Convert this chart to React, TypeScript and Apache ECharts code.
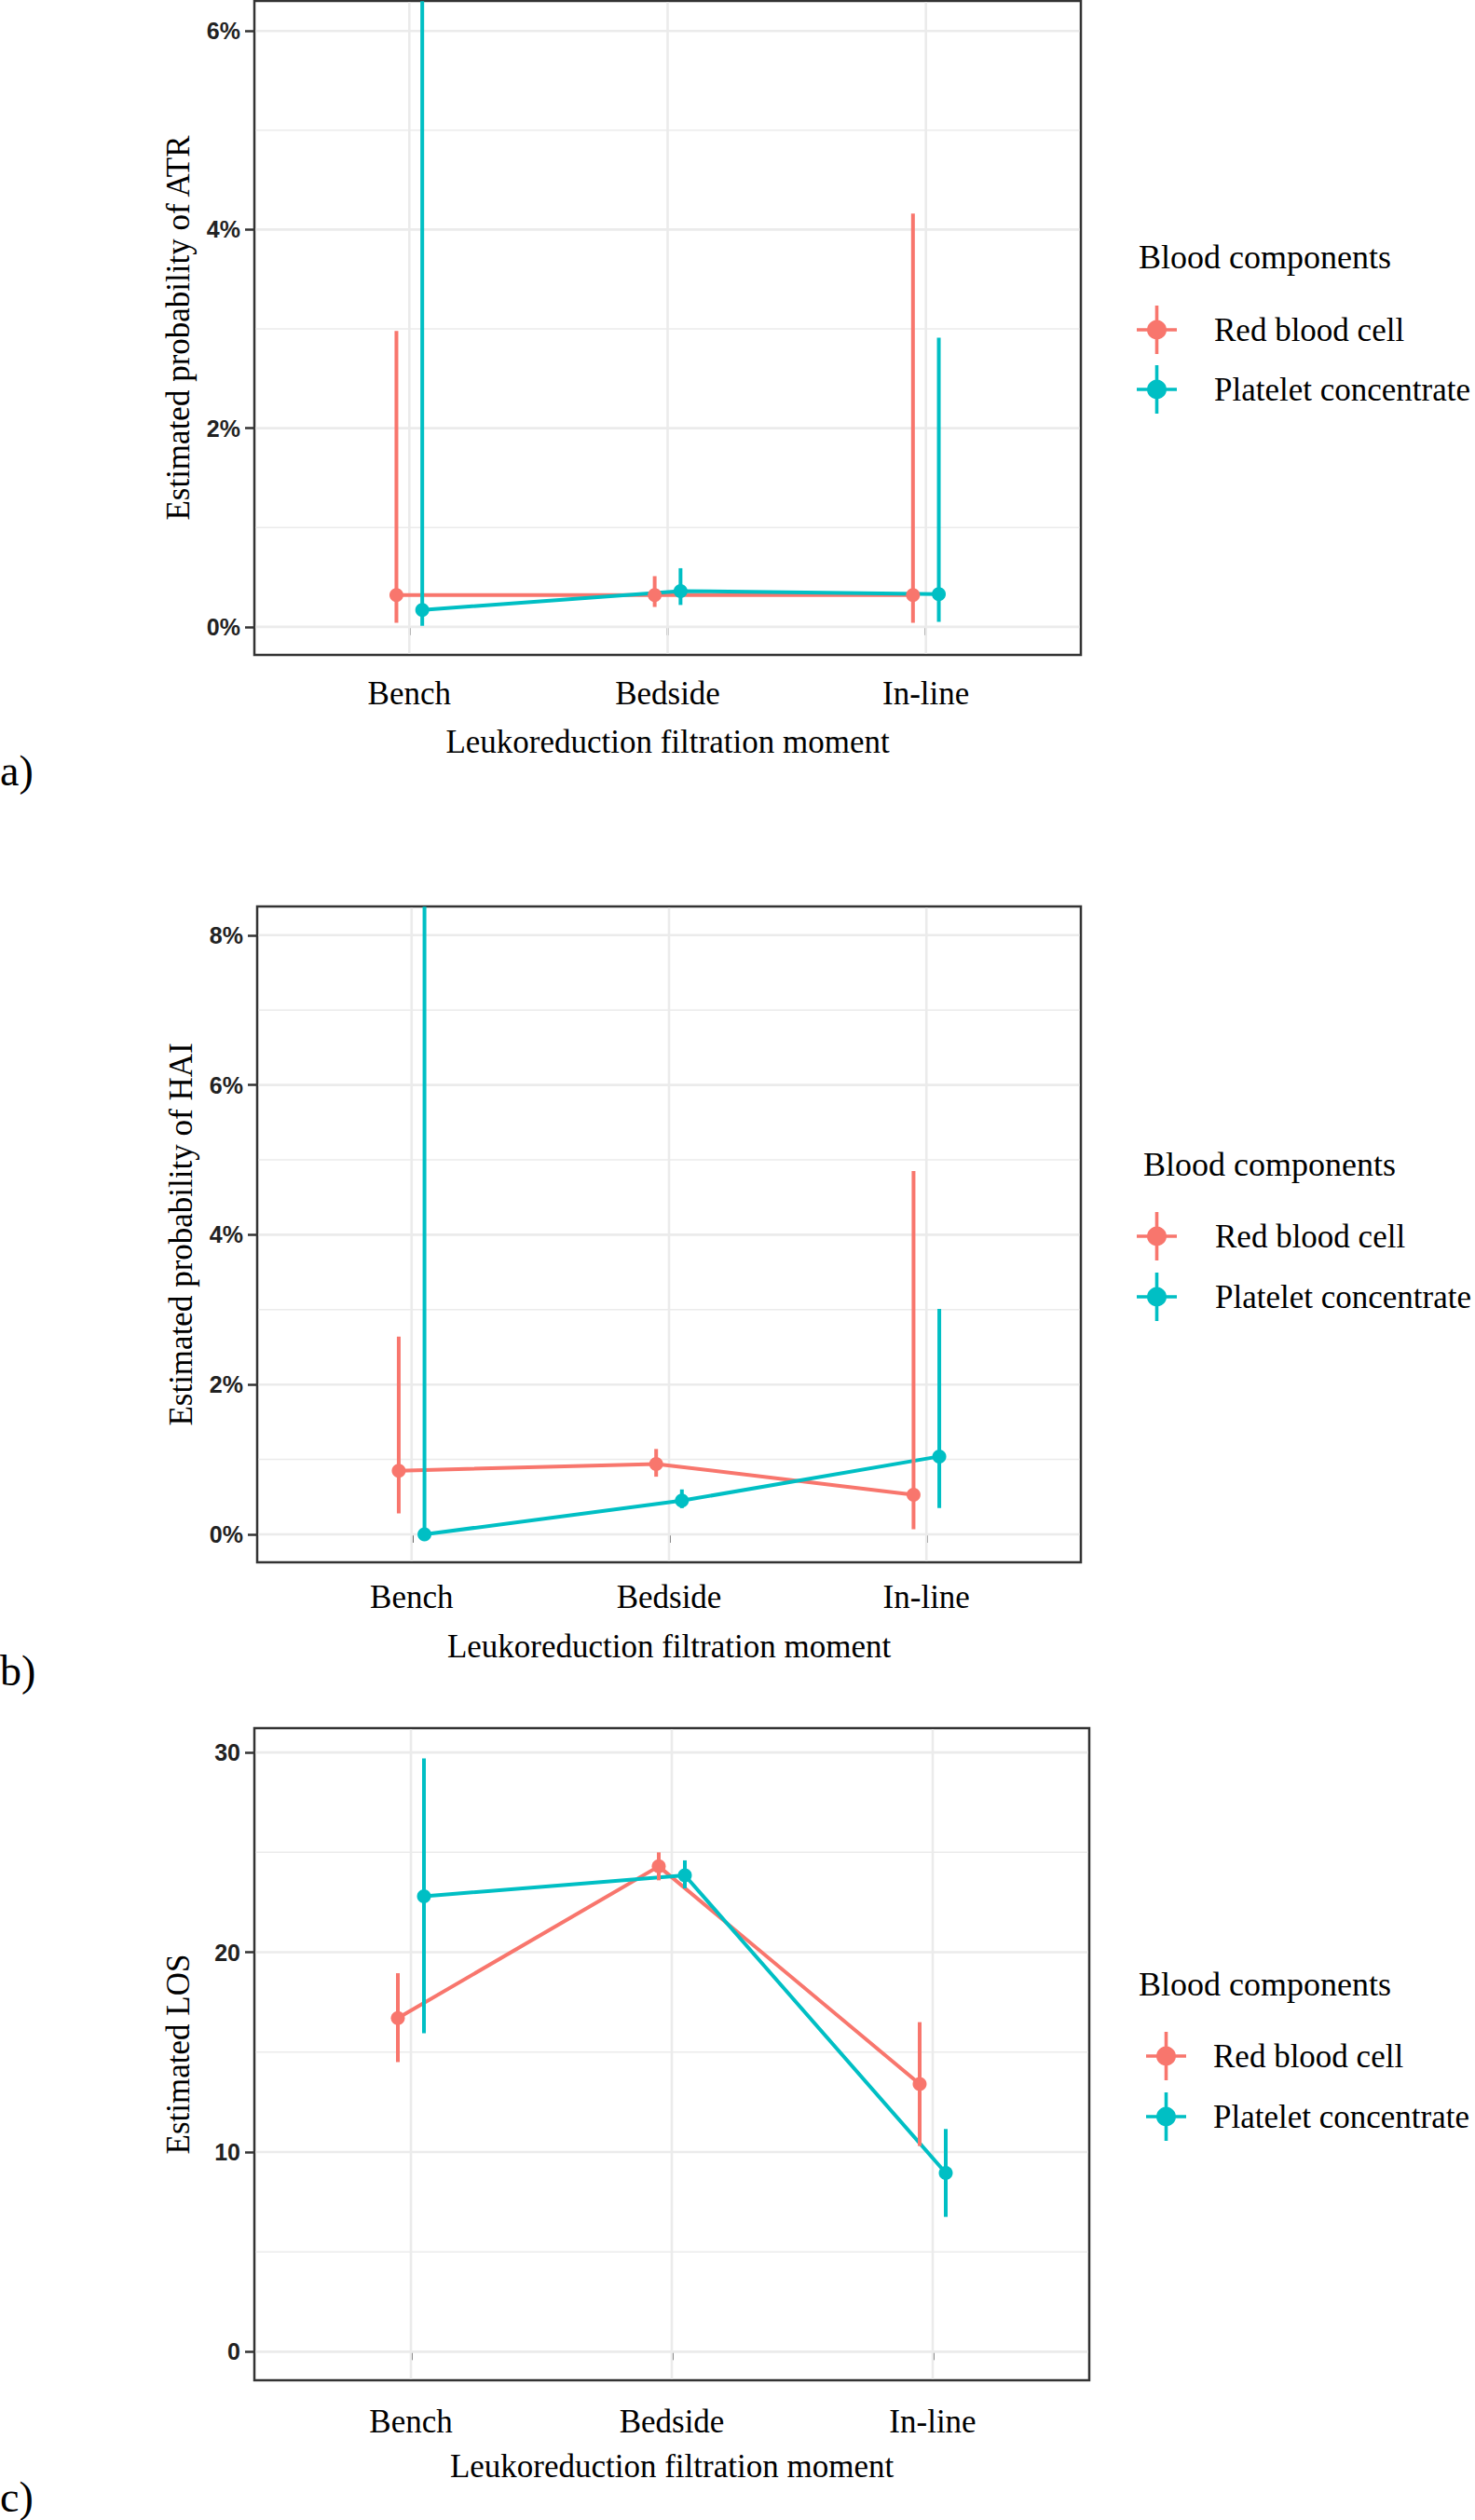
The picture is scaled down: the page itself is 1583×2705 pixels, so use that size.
import { useEffect, useRef } from "react";
import * as echarts from "echarts";

const categories = ["Bench", "Bedside", "In-line"];
const groups = ["Red blood cell", "Platelet concentrate"];
const groupColors = ["#F8766D", "#00BFC4"];
const dodge = [-0.05, 0.05];

// a) ATR, in %
const atrRedEst = [0.32, 0.32, 0.32];
const atrRedLo = [0.04, 0.2, 0.04];
const atrRedHi = [2.98, 0.51, 4.16];
const atrPltEst = [0.17, 0.36, 0.33];
const atrPltLo = [0.01, 0.22, 0.05];
const atrPltHi = [6.3, 0.59, 2.91];

// b) HAI, in %
const haiRedEst = [0.85, 0.94, 0.53];
const haiRedLo = [0.28, 0.77, 0.07];
const haiRedHi = [2.64, 1.14, 4.85];
const haiPltEst = [0.0, 0.45, 1.04];
const haiPltLo = [0.0, 0.35, 0.35];
const haiPltHi = [8.38, 0.6, 3.01];

// c) LOS
const losRedEst = [16.7, 24.3, 13.4];
const losRedLo = [14.5, 23.6, 10.3];
const losRedHi = [18.95, 25.0, 16.5];
const losPltEst = [22.8, 23.85, 8.95];
const losPltLo = [15.95, 23.2, 6.75];
const losPltHi = [29.7, 24.6, 11.15];

const atrTicks = [0, 2, 4, 6];
const atrMinor = [1, 3, 5];
const haiTicks = [0, 2, 4, 6, 8];
const haiMinor = [1, 3, 5, 7];
const losTicks = [0, 10, 20, 30];
const losMinor = [5, 15, 25];

const SERIF = "'Liberation Serif', 'Times New Roman', serif";
const SANS = "'Liberation Sans', Arial, sans-serif";

const panels = [
  {
    tag: "a)",
    yName: "Estimated probability of ATR",
    pct: true,
    ticks: atrTicks,
    minor: atrMinor,
    yMin: -0.283,
    yMax: 6.302,
    red: [atrRedEst, atrRedLo, atrRedHi],
    plt: [atrPltEst, atrPltLo, atrPltHi],
    grid: { left: 273, top: 1, width: 887, height: 702 },
    labelMargin: 24,
    nameGap: 76,
    tagY: 827,
    legendTitle: { x: 1222, y: 276 },
    legend: { left: 1215, top: 323, gap: 12, pad: 35 },
  },
  {
    tag: "b)",
    yName: "Estimated probability of HAI",
    pct: true,
    ticks: haiTicks,
    minor: haiMinor,
    yMin: -0.373,
    yMax: 8.383,
    red: [haiRedEst, haiRedLo, haiRedHi],
    plt: [haiPltEst, haiPltLo, haiPltHi],
    grid: { left: 276, top: 973, width: 884, height: 704 },
    labelMargin: 20,
    nameGap: 73,
    tagY: 1793,
    legendTitle: { x: 1227, y: 1250 },
    legend: { left: 1215, top: 1296, gap: 13, pad: 36 },
  },
  {
    tag: "c)",
    yName: "Estimated LOS",
    pct: false,
    ticks: losTicks,
    minor: losMinor,
    yMin: -1.43,
    yMax: 31.22,
    red: [losRedEst, losRedLo, losRedHi],
    plt: [losPltEst, losPltLo, losPltHi],
    grid: { left: 273, top: 1855, width: 896, height: 700 },
    labelMargin: 27,
    nameGap: 75,
    tagY: 2680,
    legendTitle: { x: 1222, y: 2130 },
    legend: { left: 1225, top: 2176, gap: 13, pad: 24 },
  },
];

// point-range key: horizontal bar, vertical bar, dot
const KEY_ICON =
  "path://M0,24.2L43,24.2L43,27.8L0,27.8Z M19.7,0L23.3,0L23.3,52L19.7,52Z M21.5,15.5A10.5,10.5,0,1,1,21.49,15.5Z";

export default function App() {
  const chartRef = useRef<HTMLDivElement>(null);

  useEffect(() => {
    if (!chartRef.current) return;
    document.body.style.margin = "0";
    const chart = echarts.init(chartRef.current, null, { renderer: "svg" });

    const grids: any[] = [];
    const xAxes: any[] = [];
    const yAxes: any[] = [];
    const series: any[] = [];
    const legends: any[] = [];
    const graphics: any[] = [];

    panels.forEach((p, pi) => {
      grids.push({
        ...p.grid,
        show: true,
        backgroundColor: "#fff",
        borderColor: "#333",
        borderWidth: 2.5,
        containLabel: false,
      });
      xAxes.push({
        gridIndex: pi,
        type: "value",
        min: 0.4,
        max: 3.6,
        name: "Leukoreduction filtration moment",
        nameLocation: "middle",
        nameGap: p.nameGap,
        nameTextStyle: { fontFamily: SERIF, fontSize: 35, color: "#000" },
        axisLine: { show: false },
        splitLine: { show: false },
        axisTick: {
          show: true,
          length: 9,
          customValues: [1, 2, 3],
          lineStyle: { color: "#333", width: 2.5 },
        },
        axisLabel: {
          customValues: [1, 2, 3],
          margin: p.labelMargin,
          fontFamily: SERIF,
          fontSize: 35,
          color: "#000",
          formatter: (v: number) => categories[Math.round(v) - 1] ?? "",
        },
      });
      yAxes.push({
        gridIndex: pi,
        type: "value",
        min: p.yMin,
        max: p.yMax,
        name: p.yName,
        nameLocation: "middle",
        nameGap: 64,
        nameTextStyle: { fontFamily: SERIF, fontSize: 35, color: "#000" },
        axisLine: { show: false },
        splitLine: { show: false },
        axisTick: {
          show: true,
          length: 10,
          customValues: p.ticks,
          lineStyle: { color: "#333", width: 2.5 },
        },
        axisLabel: {
          customValues: p.ticks,
          margin: 15,
          fontFamily: SANS,
          fontWeight: "bold",
          fontSize: 25,
          color: "#222",
          formatter: (v: number) => (p.pct ? `${v}%` : `${v}`),
        },
      });

      // grid lines
      const gridData: number[][] = [];
      p.minor.forEach((v) => gridData.push([2, v, 0, 0]));
      p.ticks.forEach((v) => gridData.push([2, v, 0, 1]));
      categories.forEach((_, i) => gridData.push([i + 1, 0, 1, 1]));
      series.push({
        type: "custom",
        xAxisIndex: pi,
        yAxisIndex: pi,
        silent: true,
        z: 1,
        data: gridData,
        renderItem: (params: any, api: any) => {
          const cs = params.coordSys;
          const kind = api.value(2);
          const major = api.value(3);
          const w = major ? 2.6 : 1.5;
          if (kind === 0) {
            const y = api.coord([2, api.value(1)])[1];
            return {
              type: "line",
              shape: { x1: cs.x + 1.5, y1: y, x2: cs.x + cs.width - 1.5, y2: y },
              style: { stroke: "#EBEBEB", lineWidth: w },
            };
          }
          const x = api.coord([api.value(0), 0])[0];
          return {
            type: "line",
            shape: { x1: x, y1: cs.y + 1.5, x2: x, y2: cs.y + cs.height - 1.5 },
            style: { stroke: "#EBEBEB", lineWidth: w },
          };
        },
      });

      [p.red, p.plt].forEach((vals, gi) => {
        const [est, lo, hi] = vals;
        const pts = categories.map((_, i) => [i + 1 + dodge[gi], est[i], lo[i], hi[i]]);
        series.push({
          name: groups[gi],
          type: "line",
          xAxisIndex: pi,
          yAxisIndex: pi,
          data: pts.map((d) => [d[0], d[1]]),
          symbol: "none",
          color: groupColors[gi],
          lineStyle: { color: groupColors[gi], width: 4 },
          z: 2,
        });
        series.push({
          name: groups[gi],
          type: "custom",
          xAxisIndex: pi,
          yAxisIndex: pi,
          data: pts,
          encode: { x: 0, y: [1, 2, 3] },
          itemStyle: { color: groupColors[gi] },
          z: 3,
          renderItem: (_params: any, api: any) => {
            const x = api.value(0);
            const pE = api.coord([x, api.value(1)]);
            const pL = api.coord([x, api.value(2)]);
            const pH = api.coord([x, api.value(3)]);
            const c = groupColors[gi];
            return {
              type: "group",
              children: [
                {
                  type: "line",
                  shape: { x1: pL[0], y1: pL[1], x2: pH[0], y2: pH[1] },
                  style: { stroke: c, lineWidth: 4 },
                },
                {
                  type: "circle",
                  shape: { cx: pE[0], cy: pE[1], r: 7.5 },
                  style: { fill: c },
                },
              ],
            };
          },
        });
      });

      legends.push({
        orient: "vertical",
        left: p.legend.left,
        top: p.legend.top,
        itemWidth: 43,
        itemHeight: 52,
        itemGap: p.legend.gap,
        selectedMode: false,
        data: groups.map((g) => ({ name: g, icon: KEY_ICON })),
        itemStyle: { borderWidth: 0 },
        textStyle: {
          fontFamily: SERIF,
          fontSize: 35,
          color: "#000",
          padding: [0, 0, 0, p.legend.pad],
        },
      });

      graphics.push({
        type: "text",
        x: p.legendTitle.x,
        y: p.legendTitle.y,
        style: {
          text: "Blood components",
          font: `36px ${SERIF}`,
          fill: "#000",
          verticalAlign: "middle",
        },
      });
      graphics.push({
        type: "text",
        x: 0,
        y: p.tagY,
        style: {
          text: p.tag,
          font: `46px ${SERIF}`,
          fill: "#000",
          verticalAlign: "middle",
        },
      });
    });

    chart.setOption({
      animation: false,
      backgroundColor: "#fff",
      grid: grids,
      xAxis: xAxes,
      yAxis: yAxes,
      legend: legends,
      graphic: graphics,
      series,
    });

    return () => {
      chart.dispose();
    };
  }, []);

  return <div ref={chartRef} style={{ width: "1583px", height: "2705px" }} />;
}
